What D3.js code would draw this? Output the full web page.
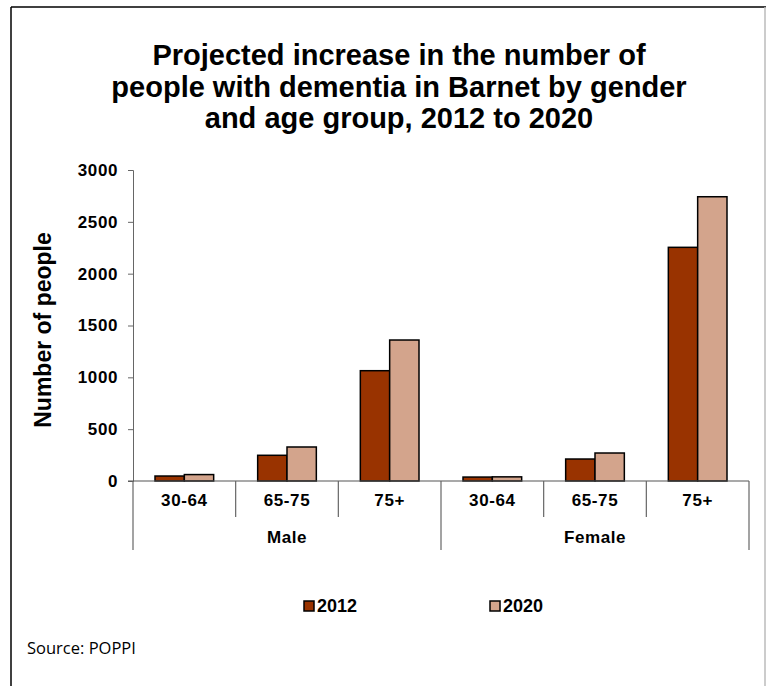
<!DOCTYPE html>
<meta charset="utf-8">
<title>Dementia in Barnet</title>
<style>
    body {
        margin: 0;
        background: #fff;
    }
    text {
        font-family: "Liberation Sans", Arial, sans-serif;
        fill: #000;
    }
    .bold {
        font-weight: bold;
    }
    .source {
        font-family: "Open Sans", "Liberation Sans", sans-serif;
        font-size: 16.5px;
    }
</style>
<body>
    <svg id="chart"></svg>
</body>
<script src="https://d3js.org/d3.v7.min.js"></script>
<script>
    // data
    var titleLines = [
        "Projected increase in the number of",
        "people with dementia in Barnet by gender",
        "and age group, 2012 to 2020"
    ];
    var genders = ["Male", "Female"];
    var ageGroups = ["30-64", "65-75", "75+"];
    var years = ["2012", "2020"];
    var values2012 = [48, 248, 1064, 38, 212, 2254];
    var values2020 = [62, 328, 1360, 40, 270, 2742];
    var yTicks = [0, 500, 1000, 1500, 2000, 2500, 3000];
    var colors = ["#993300", "#d3a48c"];

    var width = 766, height = 686;
    var plot = { left: 133, right: 749, top: 170, bottom: 481 };

    var svg = d3.select("#chart")
        .attr("width", width)
        .attr("height", height);

    // frame around the chart
    svg.append("line").attr("x1", 11).attr("x2", 11).attr("y1", 7).attr("y2", height)
        .attr("stroke", "#000").attr("stroke-width", 1.5);
    svg.append("line").attr("x1", 11).attr("x2", width).attr("y1", 7).attr("y2", 7)
        .attr("stroke", "#000").attr("stroke-width", 1.5);
    svg.append("line").attr("x1", 765).attr("x2", 765).attr("y1", 7).attr("y2", height)
        .attr("stroke", "#bbb").attr("stroke-width", 1.5);

    // title
    svg.append("text")
        .attr("class", "bold")
        .attr("text-anchor", "middle")
        .attr("font-size", 29)
        .selectAll("tspan")
        .data(titleLines)
        .join("tspan")
        .attr("x", 399)
        .attr("y", (d, i) => 65 + i * 31.5)
        .text(d => d);

    // rows: one per gender/age combo
    var rows = [];
    genders.forEach((g, gi) => {
        ageGroups.forEach((a, ai) => {
            var k = gi * ageGroups.length + ai;
            rows.push({ key: g + " " + a, gender: g, age: a, values: [values2012[k], values2020[k]] });
        });
    });

    var x0 = d3.scaleBand()
        .domain(rows.map(d => d.key))
        .range([plot.left, plot.right]);

    var x1 = d3.scaleBand()
        .domain(years)
        .range([0, x0.bandwidth()])
        .paddingOuter(0.75);

    var y = d3.scaleLinear()
        .domain([0, 3000])
        .range([plot.bottom, plot.top]);

    // y axis
    var yAxis = svg.append("g")
        .attr("transform", "translate(" + plot.left + ",0)")
        .call(d3.axisLeft(y).tickValues(yTicks).tickFormat(d3.format("d")).tickSize(5).tickPadding(10));
    yAxis.select(".domain").attr("stroke", "#666");
    yAxis.selectAll(".tick line").attr("stroke", "#666");
    yAxis.selectAll("text")
        .attr("class", "bold")
        .attr("font-size", 17)
        .attr("letter-spacing", 0.6)
        .attr("fill", "#000");

    svg.append("text")
        .attr("class", "bold")
        .attr("font-size", 23)
        .attr("text-anchor", "middle")
        .attr("transform", "translate(43,330) rotate(-90)")
        .attr("dy", "0.35em")
        .text("Number of people");

    // bars
    var groups = svg.append("g")
        .selectAll("g")
        .data(rows)
        .join("g")
        .attr("transform", d => "translate(" + x0(d.key) + ",0)");

    groups.selectAll("rect")
        .data(d => d.values.map((v, i) => ({ year: years[i], value: v })))
        .join("rect")
        .attr("x", d => x1(d.year))
        .attr("y", d => y(d.value))
        .attr("width", x1.bandwidth())
        .attr("height", d => y(0) - y(d.value))
        .attr("fill", (d, i) => colors[i])
        .attr("stroke", "#000")
        .attr("stroke-width", 1.5);

    // x axis: baseline plus two-level category labels
    svg.append("line")
        .attr("x1", plot.left - 5).attr("x2", plot.right)
        .attr("y1", plot.bottom).attr("y2", plot.bottom)
        .attr("stroke", "#555").attr("stroke-width", 1.2);

    var xAxis = svg.append("g");
    rows.forEach((d, i) => {
        var left = x0(d.key);
        var isGroupEdge = i % ageGroups.length === 0;
        xAxis.append("line")
            .attr("x1", left).attr("x2", left)
            .attr("y1", plot.bottom).attr("y2", isGroupEdge ? 550 : 517)
            .attr("stroke", "#666").attr("stroke-width", 1.2);
        xAxis.append("text")
            .attr("class", "bold")
            .attr("font-size", 17)
            .attr("letter-spacing", 0.6)
            .attr("text-anchor", "middle")
            .attr("x", left + x0.bandwidth() / 2)
            .attr("y", 500)
            .attr("dy", "0.35em")
            .text(d.age);
    });
    xAxis.append("line")
        .attr("x1", plot.right).attr("x2", plot.right)
        .attr("y1", plot.bottom).attr("y2", 550)
        .attr("stroke", "#666").attr("stroke-width", 1.2);

    genders.forEach(g => {
        var first = x0(g + " " + ageGroups[0]);
        var last = x0(g + " " + ageGroups[ageGroups.length - 1]) + x0.bandwidth();
        xAxis.append("text")
            .attr("class", "bold")
            .attr("font-size", 17)
            .attr("letter-spacing", 0.6)
            .attr("text-anchor", "middle")
            .attr("x", (first + last) / 2)
            .attr("y", 537)
            .attr("dy", "0.35em")
            .text(g);
    });

    // legend
    var legendX = [304, 490];
    var legend = svg.append("g")
        .selectAll("g")
        .data(years)
        .join("g")
        .attr("transform", (d, i) => "translate(" + legendX[i] + ",606)");
    legend.append("rect")
        .attr("x", 0).attr("y", -5)
        .attr("width", 10).attr("height", 10)
        .attr("fill", (d, i) => colors[i])
        .attr("stroke", "#000").attr("stroke-width", 1.5);
    legend.append("text")
        .attr("class", "bold")
        .attr("font-size", 18)
        .attr("x", 13)
        .attr("dy", "0.35em")
        .text(d => d);

    // source note
    svg.append("text")
        .attr("class", "source")
        .attr("x", 27)
        .attr("y", 648)
        .attr("dy", "0.35em")
        .text("Source: POPPI");
</script>
